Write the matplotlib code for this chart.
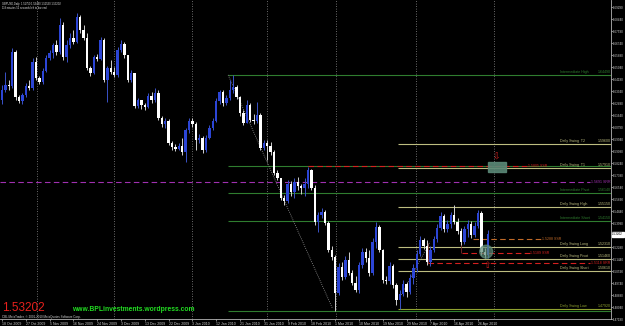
import matplotlib
matplotlib.use("Agg")
import matplotlib.pyplot as plt
from matplotlib.patches import Rectangle, Ellipse
from matplotlib.transforms import blended_transform_factory
import numpy as np

plt.rcParams['font.family'] = ['Liberation Sans', 'DejaVu Sans']

# GBPUSD daily candles, bar 0 = 18 Oct 2009
first_open = 1.6272
closes = [1.6343, 1.6378, 1.6371, 1.6612, 1.6293, 1.6265, 1.6307, 1.6371, 1.6357, 1.6541,
          1.6428, 1.6399, 1.6477, 1.6569, 1.6605, 1.6661, 1.6612, 1.6803, 1.6576, 1.6661,
          1.6711, 1.6683, 1.6860, 1.6768, 1.6711, 1.6499, 1.6463, 1.6576, 1.6562, 1.6697,
          1.6414, 1.6499, 1.6470, 1.6449, 1.6626, 1.6668, 1.6591, 1.6414, 1.6463, 1.6230,
          1.6272, 1.6237, 1.6222, 1.6300, 1.6272, 1.6322, 1.6145, 1.6102, 1.6123, 1.5968,
          1.5939, 1.5925, 1.5946, 1.5904, 1.6060, 1.6123, 1.6102, 1.5989, 1.6003, 1.5918,
          1.6003, 1.6074, 1.6123, 1.6265, 1.6329, 1.6251, 1.6286, 1.6343, 1.6364, 1.6293,
          1.6180, 1.6109, 1.6237, 1.6130, 1.6123, 1.6166, 1.5932, 1.5968, 1.5946, 1.5904,
          1.5755, 1.5720, 1.5578, 1.5557, 1.5677, 1.5621, 1.5691, 1.5663, 1.5649, 1.5677,
          1.5776, 1.5649, 1.5408, 1.5458, 1.5479, 1.5401, 1.5210, 1.5160, 1.4906, 1.5090,
          1.5019, 1.5139, 1.5047, 1.4976, 1.4927, 1.5104, 1.5196, 1.5153, 1.5047, 1.5267,
          1.5373, 1.5210, 1.4998, 1.4991, 1.5097, 1.4962, 1.4856, 1.4898, 1.4969, 1.4913,
          1.5012, 1.5083, 1.5182, 1.5281, 1.5238, 1.5125, 1.5210, 1.5288, 1.5366, 1.5451,
          1.5359, 1.5394, 1.5458, 1.5408, 1.5345, 1.5267, 1.5359, 1.5394, 1.5316, 1.5380,
          1.5472, 1.5196, 1.5175, 1.53202]
highs = [1.6378, 1.6470, 1.6414, 1.6640, 1.6626, 1.6307, 1.6322, 1.6392, 1.6414, 1.6569,
         1.6576, 1.6442, 1.6499, 1.6591, 1.6626, 1.6676, 1.6697, 1.6853, 1.6824, 1.6697,
         1.6746, 1.6768, 1.6888, 1.6874, 1.6803, 1.6746, 1.6513, 1.6591, 1.6598, 1.6718,
         1.6711, 1.6513, 1.6555, 1.6506, 1.6647, 1.6697, 1.6683, 1.6555, 1.6484, 1.6463,
         1.6286, 1.6272, 1.6251, 1.6322, 1.6329, 1.6357, 1.6343, 1.6159, 1.6145, 1.6137,
         1.5982, 1.5960, 1.5968, 1.6003, 1.6074, 1.6145, 1.6145, 1.6116, 1.6031, 1.6017,
         1.6024, 1.6095, 1.6145, 1.6286, 1.6343, 1.6343, 1.6307, 1.6414, 1.6449, 1.6378,
         1.6300, 1.6201, 1.6272, 1.6251, 1.6173, 1.6258, 1.6180, 1.5989, 1.5989, 1.5975,
         1.5918, 1.5776, 1.5720, 1.5599, 1.5706, 1.5699, 1.5720, 1.5727, 1.5677, 1.5720,
         1.5798, 1.5783, 1.5670, 1.5479, 1.5507, 1.5493, 1.5415, 1.5238, 1.5175, 1.5118,
         1.5125, 1.5168, 1.5196, 1.5068, 1.5026, 1.5125, 1.5224, 1.5224, 1.5210, 1.5295,
         1.5408, 1.5387, 1.5217, 1.5026, 1.5125, 1.5111, 1.4976, 1.4927, 1.4998, 1.4983,
         1.5040, 1.5111, 1.5210, 1.5309, 1.5295, 1.5281, 1.5238, 1.5309, 1.5394, 1.5479,
         1.5465, 1.5422, 1.5479, 1.5529, 1.5437, 1.5366, 1.5380, 1.5422, 1.5415, 1.5408,
         1.5493, 1.5486, 1.5224, 1.5349]
lows = [1.6244, 1.6329, 1.6343, 1.6357, 1.6272, 1.6251, 1.6244, 1.6293, 1.6343, 1.6343,
        1.6414, 1.6385, 1.6385, 1.6470, 1.6555, 1.6569, 1.6591, 1.6598, 1.6555, 1.6541,
        1.6640, 1.6668, 1.6676, 1.6746, 1.6697, 1.6484, 1.6442, 1.6456, 1.6548, 1.6555,
        1.6399, 1.6258, 1.6456, 1.6435, 1.6435, 1.6612, 1.6569, 1.6399, 1.6399, 1.6215,
        1.6215, 1.6208, 1.6201, 1.6215, 1.6251, 1.6258, 1.6130, 1.6081, 1.6074, 1.5953,
        1.5918, 1.5911, 1.5918, 1.5883, 1.5833, 1.6038, 1.6081, 1.5918, 1.5968, 1.5897,
        1.5904, 1.5996, 1.6060, 1.6116, 1.6244, 1.6230, 1.6237, 1.6272, 1.6322, 1.6279,
        1.6159, 1.6095, 1.6109, 1.6116, 1.6102, 1.6109, 1.5918, 1.5918, 1.5847, 1.5883,
        1.5741, 1.5706, 1.5564, 1.5529, 1.5543, 1.5592, 1.5578, 1.5635, 1.5606, 1.5592,
        1.5649, 1.5635, 1.5387, 1.5337, 1.5437, 1.5387, 1.5196, 1.5139, 1.4778, 1.4891,
        1.4998, 1.5005, 1.5033, 1.4962, 1.4913, 1.4906, 1.5083, 1.5125, 1.5026, 1.5033,
        1.5224, 1.5196, 1.4976, 1.4969, 1.4969, 1.4941, 1.4821, 1.4792, 1.4884, 1.4877,
        1.4898, 1.4969, 1.5054, 1.5168, 1.5217, 1.5104, 1.5097, 1.5196, 1.5267, 1.5352,
        1.5337, 1.5337, 1.5366, 1.5394, 1.5323, 1.5245, 1.5252, 1.5302, 1.5295, 1.5302,
        1.5366, 1.5175, 1.5153, 1.5153]

date_labels = ['18 Oct 2009', '27 Oct 2009', '5 Nov 2009', '16 Nov 2009', '24 Nov 2009',
               '3 Dec 2009', '13 Dec 2009', '22 Dec 2009', '3 Jan 2010', '12 Jan 2010',
               '21 Jan 2010', '31 Jan 2010', '9 Feb 2010', '18 Feb 2010', '1 Mar 2010',
               '10 Mar 2010', '19 Mar 2010', '29 Mar 2010', '7 Apr 2010', '16 Apr 2010',
               '26 Apr 2010']
date_ticks = list(range(0, 141, 7))
month_starts = [10.3, 32.9, 55.9, 77.9, 98.2, 121.8, 144.7]

price_ticks = [1.6929, 1.6844, 1.6759, 1.6674, 1.6589, 1.6504, 1.6419, 1.6334, 1.6249,
               1.6164, 1.6079, 1.5994, 1.5909, 1.5824, 1.5739, 1.5654, 1.5569, 1.5484,
               1.5399, 1.5229, 1.5144, 1.5059, 1.4974, 1.4889, 1.4804, 1.4719]
last_price = 1.53202

# drawn objects
inter_levels = [1.6449, 1.5805, 1.5614, 1.5415, 1.4778]
inter_names = ['Intermediate High', '', 'Intermediate Pivot', 'Intermediate Short', '']
swing_levels = [1.5960, 1.5791, 1.5515, 1.5231, 1.5146, 1.5061, 1.4792]
swing_names = ['Daily Swing  T2', 'Daily Swing  T1', 'Daily Swing High', 'Daily Swing Long',
               'Daily Swing Pivot', 'Daily Swing Short', 'Daily Swing Low']
ssr_red_top = 1.5805
srr_purple = 1.5691
ssr_orange = 1.5288
ssr_red_mid = 1.5189
srr_red_low = 1.5118

BG = 'black'
BLUE = '#2c45d6'
GREEN = '#2f7d2f'
KHAKI = '#bdbd80'
OLIVE = '#8fa030'
RED = '#d42020'
PURPLE = '#a030b0'
ORANGE = '#c06a28'
AXC = '#b4b4b4'

fig = plt.figure(figsize=(6.25, 3.26), dpi=100, facecolor=BG)
ax = fig.add_axes([0, 7 / 326, 611 / 625, 319 / 326], facecolor=BG)
ax.set_xlim(-0.59, 179.1)
ax.set_ylim(1.4721, 1.6980)

# month separators
for m in month_starts:
    ax.axvline(m, color='#8c8c8c', lw=0.6, ls=(0, (1, 2)), zorder=1)

# horizontal levels
ax.hlines(inter_levels, 66.5, 179.1, colors=GREEN, lw=0.8, zorder=2)
ax.hlines(swing_levels[:-1], 116.5, 179.1, colors=KHAKI, lw=0.8, zorder=2)
ax.hlines(swing_levels[-1], 116.5, 179.1, colors=OLIVE, lw=0.8, zorder=2)
ax.hlines(srr_purple, -0.6, 172.9, colors=PURPLE, lw=0.8, linestyles=(0, (5, 3)), zorder=2)
ax.hlines(ssr_red_top, 90, 154.4, colors=RED, lw=0.8, linestyles=(0, (5, 3)), zorder=2)
ax.hlines(ssr_orange, 138.5, 158.8, colors=ORANGE, lw=0.8, linestyles=(0, (5, 3)), zorder=2)
ax.hlines(ssr_red_mid, 135.3, 155.3, colors=RED, lw=0.8, linestyles=(0, (5, 3)), zorder=2)
ax.hlines(srr_red_low, 125.3, 172.9, colors=RED, lw=0.8, linestyles=(0, (5, 3)), zorder=2)
ax.vlines(125.3, srr_red_low, 1.5260, colors='#7a2a2a', lw=0.6, zorder=2)
ax.vlines(135.0, ssr_red_mid, 1.5330, colors='#7a2a2a', lw=0.6, zorder=2)

# trend lines
ax.plot([66.5, 97.1], [1.6449, 1.4799], color='#9a9a9a', lw=0.6, ls=(0, (1, 1.5)), zorder=2)
ax.plot([117.1, 125.9], [1.4877, 1.5267], color='#9a9a9a', lw=0.6, ls=(0, (1, 1.5)), zorder=2)

# candles
n = len(closes)
x = np.arange(n)
opens = np.array([first_open] + closes[:-1])
c = np.array(closes)
up = c >= opens
body_col = [BLUE if u else 'white' for u in up]
wick_col = ['#3a52c8' if u else '#d0d0d0' for u in up]
ax.vlines(x, lows, highs, colors=wick_col, lw=0.7, zorder=3)
heights = np.maximum(np.abs(c - opens), 0.00035)
ax.bar(x, heights, bottom=np.minimum(c, opens), width=0.72, color=body_col, lw=0, zorder=4)

# marker objects near last bar
ax.add_patch(Rectangle((143.0, 1.5762), 5.3, 0.0071, color='#5b8877', alpha=0.9, zorder=5))
ax.add_patch(Ellipse((142.4, 1.5196), 3.8, 0.0092, color='#5e8c7a', alpha=0.7, zorder=5))
ax.text(145.3, 1.5868, '\u21e9', color=RED, fontsize=6.5, ha='center', va='center', zorder=6)
ax.text(142.8, 1.5097, '\u21e7', color=RED, fontsize=6.5, ha='center', va='center', zorder=6)

# level labels
fs = 2.6
for lv, nm in zip(inter_levels, inter_names):
    if nm:
        ax.text(164.1, lv + 0.0003, nm, color=GREEN, fontsize=fs, va='bottom', zorder=6)
        ax.text(178.9, lv + 0.0003, '%.5f' % lv, color=GREEN, fontsize=fs, va='bottom', ha='right', zorder=6)
for lv, nm in zip(swing_levels, swing_names):
    col = OLIVE if nm.endswith('Low') else KHAKI
    ax.text(164.1, lv + 0.0003, nm, color=col, fontsize=fs, va='bottom', zorder=6)
    ax.text(178.9, lv + 0.0003, '%.5f' % lv, color=col, fontsize=fs, va='bottom', ha='right', zorder=6)
ax.text(154.7, ssr_red_top, '%.4f SSR' % ssr_red_top, color=RED, fontsize=fs, va='center', zorder=6)
ax.text(178.9, srr_purple, '%.4f SRR' % srr_purple, color=PURPLE, fontsize=fs, va='center', ha='right', zorder=6)
ax.text(158.8, ssr_orange, '%.4f SSR' % ssr_orange, color=ORANGE, fontsize=fs, va='center', zorder=6)
ax.text(155.3, ssr_red_mid, '%.4f SSR' % ssr_red_mid, color=RED, fontsize=fs, va='center', zorder=6)
ax.text(178.9, srr_red_low, '%.4f SRR' % srr_red_low, color=RED, fontsize=fs, va='center', ha='right', zorder=6)

# header / footer texts
ax.text(0, 1.6969, 'GBPUSD,Daily  %.5f %.5f %.5f %.5f' % (opens[-1], highs[-1], lows[-1], closes[-1]),
        color='#d8d8d8', fontsize=1.9, va='top', zorder=6)
ax.text(0, 1.6940, '119 minutes 52 seconds left to bar end', color='#d8d8d8', fontsize=1.9,
        va='top', zorder=6)
ax.text(0, 1.4774, '%.5f' % last_price, color='#e8201c', fontsize=8.5, va='baseline', zorder=6)
ax.text(20.6, 1.4778, 'www.BPLinvestments.wordpress.com', color='#22dd22', fontsize=4.9,
        fontweight='bold', va='baseline', zorder=6)
ax.text(0, 1.4729, 'CBL MetaTrader, \u00a9 2001-2010 MetaQuotes Software Corp.', color='#d0d0d0',
        fontsize=2.2, va='baseline', zorder=6)

# axes styling
for s in ['left', 'top']:
    ax.spines[s].set_visible(False)
for s in ['right', 'bottom']:
    ax.spines[s].set_color(AXC)
    ax.spines[s].set_linewidth(0.6)
ax.yaxis.tick_right()
ax.set_yticks(price_ticks)
ax.set_yticklabels(['%.5f' % p for p in price_ticks])
ax.tick_params(axis='y', colors=AXC, labelcolor='#d0d0d0', labelsize=2.15, length=1.2, width=0.5, pad=0.4)
ax.set_xticks(date_ticks)
ax.set_xticklabels(date_labels)
ax.tick_params(axis='x', colors=AXC, labelcolor='#d0d0d0', labelsize=2.5, length=1.5, width=0.5, pad=0.8)
for lbl in ax.get_xticklabels():
    lbl.set_ha('left')

tr = blended_transform_factory(ax.transAxes, ax.transData)
ax.text(1.002, last_price, '%.5f' % last_price, transform=tr, color='black', fontsize=2.15,
        va='center', ha='left', zorder=7, clip_on=False,
        bbox=dict(facecolor='white', edgecolor='white', pad=0.4))

fig.savefig('out.png', dpi=100, facecolor=BG)
